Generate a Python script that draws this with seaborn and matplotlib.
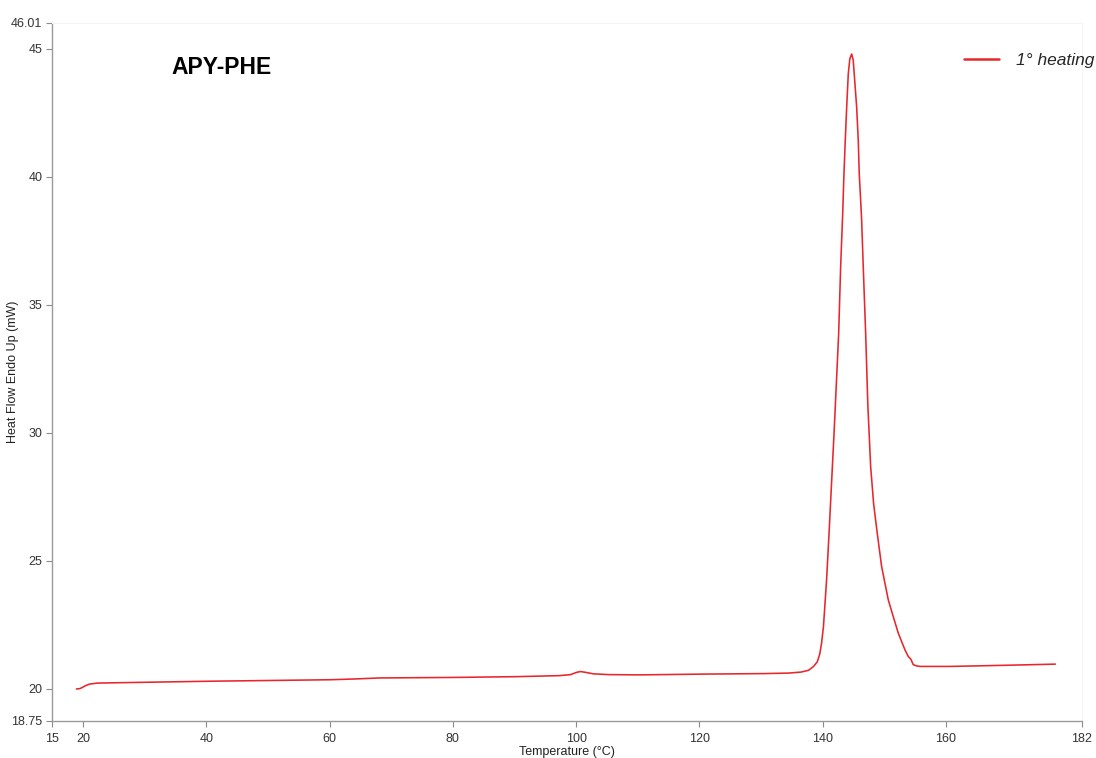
import matplotlib
matplotlib.use("Agg")
import matplotlib.pyplot as plt
import seaborn as sns
import pandas as pd

# DSC trace, first heating run
temperature = [
    18.91, 19.42, 19.82, 20.32, 21.03, 22.33, 24.85, 29.88, 39.94, 49.99,
    60.05, 64.08, 68.10, 80.17, 90.23, 97.27, 99.08, 100.09, 100.69, 101.49,
    102.80, 105.32, 110.34, 120.40, 130.46, 134.48, 136.50, 137.70, 138.51,
    139.11, 139.51, 139.82, 140.12, 140.62, 141.02, 141.42, 141.83, 142.58,
    142.90, 143.24, 143.44, 143.65, 143.88, 144.14, 144.39, 144.69, 144.94,
    145.14, 145.50, 145.76, 145.92, 146.15, 146.31, 146.57, 146.96, 147.31,
    147.77, 148.26, 148.84, 149.55, 150.63, 151.43, 152.25, 153.33, 153.87,
    154.30, 154.68, 155.21, 155.81, 160.64, 170.70, 177.74,
]
heat_flow = [
    19.99, 20.00, 20.04, 20.11, 20.18, 20.22, 20.23, 20.25, 20.29, 20.32,
    20.35, 20.38, 20.42, 20.44, 20.47, 20.51, 20.55, 20.64, 20.67, 20.64,
    20.58, 20.55, 20.54, 20.57, 20.59, 20.61, 20.65, 20.72, 20.87, 21.05,
    21.35, 21.80, 22.45, 24.25, 26.07, 28.00, 29.97, 33.87, 36.47, 38.60,
    40.11, 41.41, 42.71, 44.01, 44.60, 44.79, 44.55, 43.90, 42.71, 41.41,
    40.11, 39.07, 38.29, 36.47, 33.87, 31.10, 28.67, 27.20, 26.07, 24.77,
    23.47, 22.82, 22.17, 21.52, 21.26, 21.15, 20.94, 20.89, 20.87, 20.87,
    20.92, 20.96,
]

x_ticks = [15, 20, 40, 60, 80, 100, 120, 140, 160, 182]
x_tick_labels = ["15", "20", "40", "60", "80", "100", "120", "140", "160", "182"]
y_ticks = [18.75, 20, 25, 30, 35, 40, 45, 46.01]
y_tick_labels = ["18.75", "20", "25", "30", "35", "40", "45", "46.01"]

series_name = "1° heating"
sample_name = "APY-PHE"

df = pd.DataFrame({"Temperature": temperature, "HeatFlow": heat_flow,
                   "Run": series_name})

sns.set_style("ticks")
plt.rcParams["font.family"] = ["Liberation Sans", "DejaVu Sans"]

fig = plt.figure(figsize=(10.96, 7.58), dpi=100)
ax = fig.add_axes([0.0477, 0.0492, 0.9392, 0.9208])

sns.lineplot(data=df, x="Temperature", y="HeatFlow", hue="Run",
             palette=["#e8262b"], estimator=None, sort=True,
             linewidth=1.15, ax=ax, legend=False)

ax.set_xlim(15, 182)
ax.set_ylim(18.75, 46.01)
ax.set_xticks(x_ticks)
ax.set_xticklabels(x_tick_labels)
ax.set_yticks(y_ticks)
ax.set_yticklabels(y_tick_labels)

ax.tick_params(axis="both", direction="out", length=4, width=0.8,
               colors="#8c8c8c", labelcolor="#333333", labelsize=9)
ax.tick_params(axis="x", pad=5)
ax.tick_params(axis="y", pad=3)

for side in ("left", "bottom"):
    ax.spines[side].set_color("#9a9a9a")
    ax.spines[side].set_linewidth(1.0)
for side in ("top", "right"):
    ax.spines[side].set_visible(True)
    ax.spines[side].set_color("#f4f4f4")
    ax.spines[side].set_linewidth(0.8)

ax.set_xlabel("Temperature (°C)", fontsize=9, color="#222222", labelpad=0.5)
ax.set_ylabel("Heat Flow Endo Up (mW)", fontsize=9, color="#222222")
ax.yaxis.set_label_coords(-0.032, 0.5)

fig.text(222 / 1096, 1 - 67 / 758, sample_name, fontsize=16.5,
         fontweight="bold", ha="center", va="center", color="black",
         family=["Liberation Sans", "DejaVu Sans"])

handle = plt.Line2D([], [], color="#e8262b", linewidth=1.8)
fig.legend([handle], [series_name], loc="center left",
           bbox_to_anchor=(964 / 1096, 1 - 60 / 758), frameon=False,
           borderpad=0, borderaxespad=0, handlelength=2.0,
           handletextpad=1.0, prop={"size": 12.5, "style": "italic"})

fig.savefig("out.png", dpi=100, facecolor="white")
